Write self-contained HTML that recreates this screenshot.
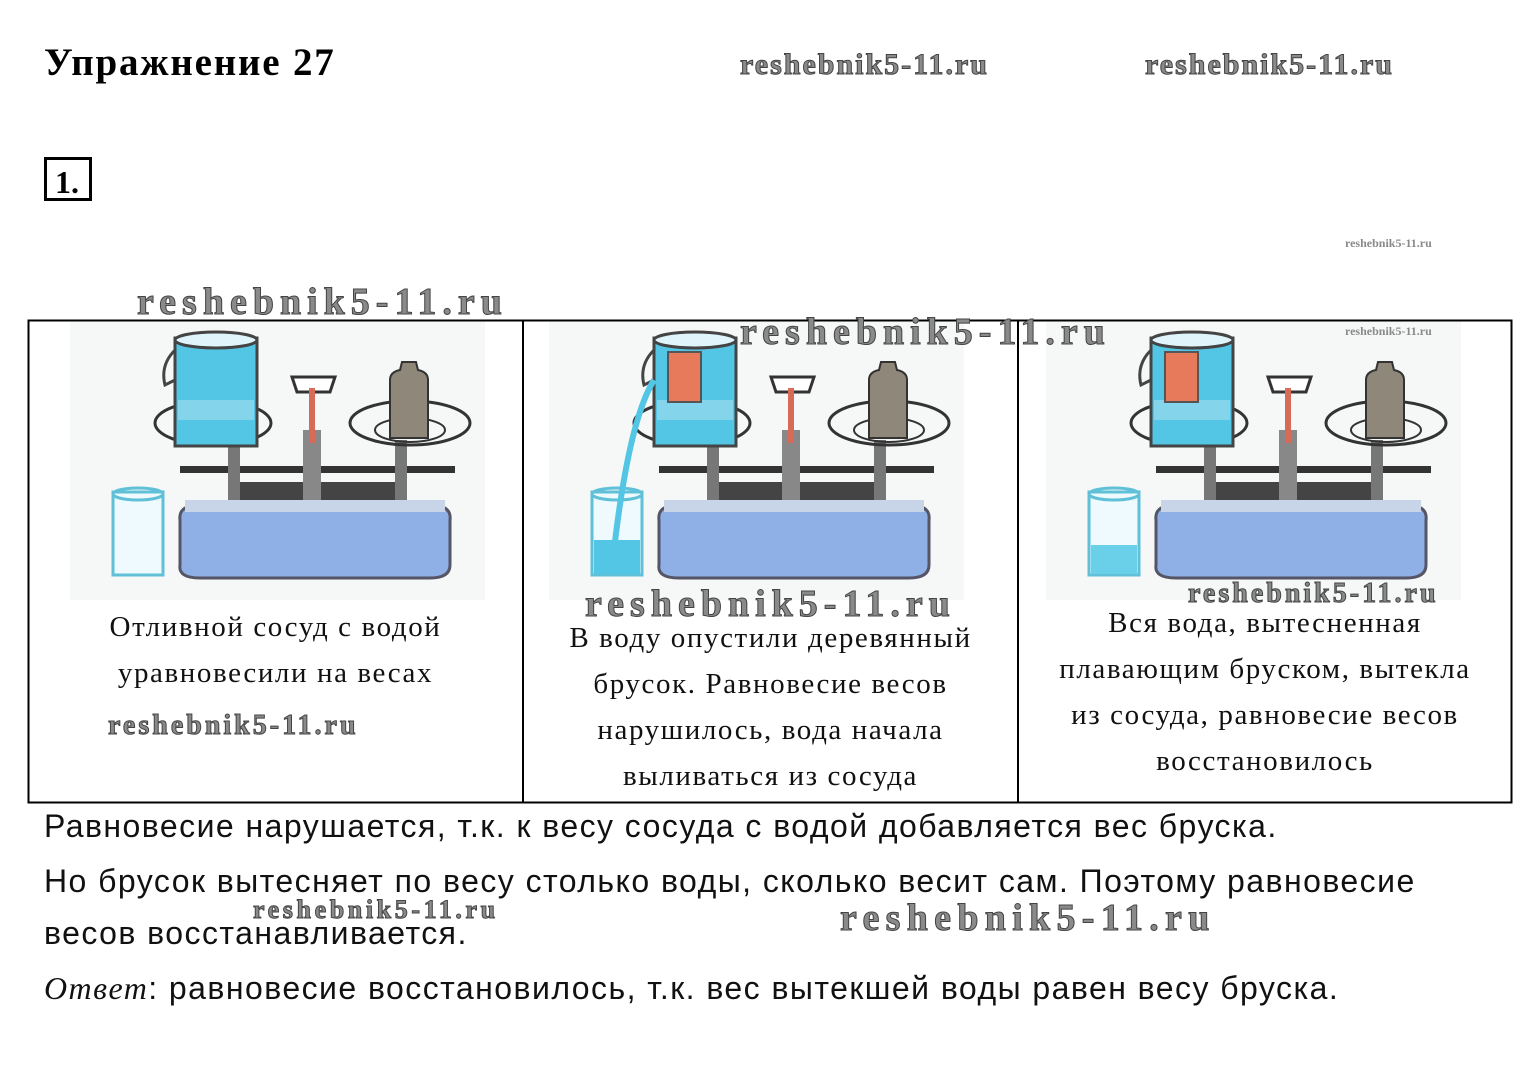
<!DOCTYPE html>
<html><head><meta charset="utf-8"><style>
body{margin:0;width:1532px;height:1084px;background:#fff;position:relative;overflow:hidden;font-family:"Liberation Serif",serif}
.a{position:absolute;white-space:nowrap}
.wm{position:absolute;font-family:"Liberation Serif",serif;font-weight:bold;color:#8a8a8a;-webkit-text-stroke:1px #444;white-space:nowrap}
.cap{position:absolute;font-size:29px;letter-spacing:1.6px;text-align:center;line-height:46px;color:#111;white-space:nowrap}
.bt{position:absolute;left:44px;font-family:"Liberation Sans",sans-serif;font-size:32px;letter-spacing:1.45px;color:#111;white-space:nowrap}
</style></head><body>
<div class="a" style="left:44px;top:40px;font-size:39px;letter-spacing:1.8px;font-weight:bold">Упражнение 27</div>
<div class="a" style="left:44px;top:157px;width:48px;height:44px;border:3px solid #000;font-size:32px;font-weight:bold;line-height:44px;padding-left:8px;box-sizing:border-box">1.</div>

<svg class="a" style="left:0;top:0" width="1532" height="1084">
<defs>
<g id="sc">
<rect x="70" y="320" width="415" height="280" fill="#f6f8f8"/>
<rect x="113" y="492" width="50" height="83" fill="#eefafd" stroke="#5fc0d8" stroke-width="3"/>
<ellipse cx="138" cy="494" rx="25" ry="6" fill="none" stroke="#5fc0d8" stroke-width="3"/>
<path d="M180 520 Q178 505 200 505 L430 505 Q452 505 450 520 L450 565 Q450 578 430 578 L200 578 Q178 578 180 565Z" fill="#8fb0e6" stroke="#556" stroke-width="3"/>
<rect x="185" y="500" width="260" height="12" fill="#c8d4e8"/>
<rect x="230" y="482" width="170" height="18" fill="#444"/>
<rect x="180" y="466" width="275" height="7" fill="#333"/>
<rect x="228" y="440" width="12" height="60" fill="#777"/>
<rect x="395" y="440" width="12" height="60" fill="#777"/>
<rect x="303" y="430" width="18" height="70" fill="#888"/>
<path d="M292 377 L335 377 L330 392 L297 392Z" fill="#fff" stroke="#333" stroke-width="3"/>
<rect x="309" y="388" width="6" height="55" fill="#d86a5a"/>
<ellipse cx="213" cy="423" rx="58" ry="22" fill="none" stroke="#333" stroke-width="3"/>
<ellipse cx="410" cy="423" rx="60" ry="22" fill="none" stroke="#333" stroke-width="3"/>
<ellipse cx="410" cy="430" rx="35" ry="12" fill="none" stroke="#333" stroke-width="2"/>
<path d="M390 380 Q390 372 400 370 L402 362 L416 362 L418 370 Q428 372 428 380 L428 438 L390 438Z" fill="#8f887a" stroke="#333" stroke-width="2"/>
<rect x="175" y="338" width="82" height="108" fill="#52c6e4" stroke="#444" stroke-width="3"/>
<ellipse cx="216" cy="340" rx="41" ry="8" fill="#dff5fb" stroke="#444" stroke-width="3"/>
<path d="M175 350 Q160 365 165 385 L175 380" fill="none" stroke="#444" stroke-width="3"/>
<rect x="178" y="400" width="76" height="20" fill="#9adcef" opacity=".7"/>
</g>
<g id="blk"><rect x="189" y="352" width="33" height="50" fill="#e87a5c" stroke="#555" stroke-width="2"/></g>
</defs>
<use href="#sc"/>
<g transform="translate(479,0)"><use href="#sc"/><use href="#blk"/>
<path d="M175 380 Q150 420 135 550" fill="none" stroke="#52c6e4" stroke-width="6"/>
<rect x="115" y="540" width="46" height="34" fill="#52c6e4"/></g>
<g transform="translate(976,0)"><use href="#sc"/><use href="#blk"/>
<rect x="115" y="545" width="46" height="29" fill="#6ad0ea"/></g>
<rect x="28.5" y="320.5" width="1483" height="482" fill="none" stroke="#000" stroke-width="2"/>
<line x1="523" y1="320" x2="523" y2="803" stroke="#000" stroke-width="2"/>
<line x1="1018" y1="320" x2="1018" y2="803" stroke="#000" stroke-width="2"/>
</svg>

<div class="cap" style="left:28px;width:495px;top:604px">Отливной сосуд с водой<br>уравновесили на весах</div>
<div class="cap" style="left:523px;width:495px;top:615px">В воду опустили деревянный<br>брусок. Равновесие весов<br>нарушилось, вода начала<br>выливаться из сосуда</div>
<div class="cap" style="left:1018px;width:494px;top:600px">Вся вода, вытесненная<br>плавающим бруском, вытекла<br>из сосуда, равновесие весов<br>восстановилось</div>

<div class="bt" style="top:808px">Равновесие нарушается, т.к. к весу сосуда с водой добавляется вес бруска.</div>
<div class="bt" style="top:863px">Но брусок вытесняет по весу столько воды, сколько весит сам. Поэтому равновесие</div>
<div class="bt" style="top:915px">весов восстанавливается.</div>
<div class="bt" style="top:970px"><i style="font-family:'Liberation Serif',serif">Ответ</i>: равновесие восстановилось, т.к. вес вытекшей воды равен весу бруска.</div>

<div class="wm" style="left:740px;top:48px;font-size:30px;letter-spacing:2px">reshebnik5-11.ru</div>
<div class="wm" style="left:1145px;top:48px;font-size:30px;letter-spacing:2px">reshebnik5-11.ru</div>
<div class="wm" style="left:1345px;top:236px;font-size:12px;-webkit-text-stroke:0">reshebnik5-11.ru</div>
<div class="wm" style="left:1345px;top:324px;font-size:12px;-webkit-text-stroke:0">reshebnik5-11.ru</div>
<div class="wm" style="left:137px;top:280px;font-size:38px;letter-spacing:6px">reshebnik5-11.ru</div>
<div class="wm" style="left:740px;top:310px;font-size:38px;letter-spacing:6px">reshebnik5-11.ru</div>
<div class="wm" style="left:585px;top:582px;font-size:38px;letter-spacing:6px">reshebnik5-11.ru</div>
<div class="wm" style="left:1188px;top:578px;font-size:28px;letter-spacing:3px">reshebnik5-11.ru</div>
<div class="wm" style="left:108px;top:710px;font-size:28px;letter-spacing:3px">reshebnik5-11.ru</div>
<div class="wm" style="left:253px;top:895px;font-size:26px;letter-spacing:3.6px">reshebnik5-11.ru</div>
<div class="wm" style="left:840px;top:896px;font-size:38px;letter-spacing:6.3px">reshebnik5-11.ru</div>
</body></html>
